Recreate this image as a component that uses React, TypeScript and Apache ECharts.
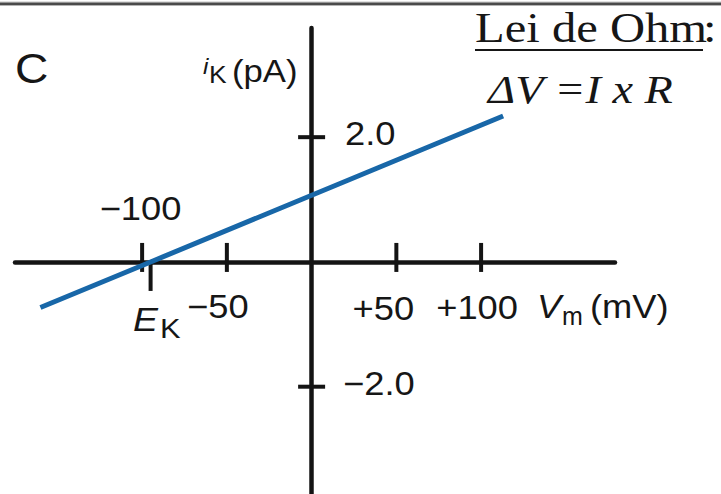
import React, { useEffect, useRef } from 'react';
import * as echarts from 'echarts';

// I–V relation of a single K+ channel
const vm = [-160, -95, 113];
const ik = [-0.73, 0, 2.34];
const eK = -95;

const xTickValues = [-100, -50, 50, 100];
const xTickLabels = ['\u2212100', '\u221250', '+50', '+100'];
const yTickValues = [2, -2];
const yTickLabels = ['2.0', '\u22122.0'];

// label placement relative to each tick (pixels)
const xLabelShift = [[-1.6, -53], [-9, 45], [-13, 47], [-4, 46]];
const yLabelShift = [[33.4, -4], [31.4, -3]];

const SANS = '"Liberation Sans", Arial, Helvetica, sans-serif';
const SERIF = '"Liberation Serif", "Times New Roman", serif';
const INK = '#161616';
const AXIS = '#141414';
const STRETCH = 1.1;

function txt(text: string, x: number, y: number, size: number, opts: any = {}) {
  const align = opts.align || 'left';
  return {
    type: 'text',
    x,
    y,
    scaleX: opts.scaleX ?? STRETCH,
    z: 20,
    style: {
      text,
      fontSize: size,
      fontFamily: opts.family || SANS,
      fontStyle: opts.italic ? 'italic' : 'normal',
      fill: INK,
      align,
      textAlign: align,
      verticalAlign: 'middle',
      textVerticalAlign: 'middle',
    },
  };
}

export default function App() {
  const ref = useRef<HTMLDivElement>(null);

  useEffect(() => {
    const chart = echarts.init(ref.current!, null, { renderer: 'svg' });

    const axisCommon = {
      type: 'value',
      axisLine: { onZero: true, lineStyle: { color: AXIS, width: 4.5 } },
      axisTick: { show: false },
      axisLabel: { show: false },
      splitLine: { show: false },
    };

    const tickStyle = { stroke: AXIS, lineWidth: 4 };

    chart.setOption({
      animation: false,
      backgroundColor: '#ffffff',
      grid: { left: 15, right: 106, top: 28, bottom: 0 },
      xAxis: { ...axisCommon, min: -175, max: 179 },
      yAxis: { ...axisCommon, min: -3.72, max: 3.75 },
      series: [
        {
          type: 'line',
          data: vm.map((v, i) => [v, ik[i]]),
          symbol: 'none',
          showSymbol: false,
          lineStyle: { color: '#1867a8', width: 5 },
          z: 5,
        },
        {
          // crossing ticks on the voltage axis
          type: 'custom',
          data: xTickValues.map((v) => [v, 0]),
          renderItem: (_p: any, api: any) => {
            const c = api.coord([api.value(0), 0]);
            return {
              type: 'line',
              shape: { x1: c[0], y1: c[1] - 19, x2: c[0], y2: c[1] + 10 },
              style: tickStyle,
            };
          },
          z: 3,
        },
        {
          // reversal potential tick, below the axis
          type: 'custom',
          data: [[eK, 0]],
          renderItem: (_p: any, api: any) => {
            const c = api.coord([api.value(0), 0]);
            return {
              type: 'line',
              shape: { x1: c[0], y1: c[1], x2: c[0], y2: c[1] + 29 },
              style: tickStyle,
            };
          },
          z: 3,
        },
        {
          // ticks on the current axis
          type: 'custom',
          data: yTickValues.map((v) => [0, v]),
          renderItem: (_p: any, api: any) => {
            const c = api.coord([0, api.value(1)]);
            return {
              type: 'line',
              shape: { x1: c[0] - 13.5, y1: c[1], x2: c[0] + 13.5, y2: c[1] },
              style: tickStyle,
            };
          },
          z: 3,
        },
      ],
    });

    const px = (x: number, y: number) => chart.convertToPixel({ gridIndex: 0 }, [x, y]) as number[];
    const origin = px(0, 0);
    const ekPt = px(eK, 0);

    const graphic: any[] = [
      // frame line across the top
      { type: 'rect', shape: { x: 0, y: 1.5, width: 721, height: 1 }, style: { fill: '#c4c4c4' } },
      { type: 'rect', shape: { x: 0, y: 2.5, width: 721, height: 2.5 }, style: { fill: '#4a4a4a' } },
      { type: 'rect', shape: { x: 0, y: 5, width: 721, height: 1 }, style: { fill: '#b4b4b4' } },

      txt('C', 15, 68, 42),

      // current axis name
      txt('i', 203, 66, 22, { italic: true }),
      txt('K', 209, 74, 24),
      txt('(pA)', 232, 71, 31, { scaleX: 1.12 }),

      // voltage axis name
      txt('V', 537, 307, 33, { italic: true }),
      txt('m', 562, 316, 25, { scaleX: 1.0 }),
      txt('(mV)', 590, 307, 33),

      // Ohm's law note
      txt('Lei de Ohm', 475, 27.5, 43, { family: SERIF, scaleX: 1.13 }),
      txt(':', 703, 27.5, 43, { family: SERIF, scaleX: 1.13 }),
      { type: 'rect', shape: { x: 475, y: 49, width: 228, height: 2 }, style: { fill: INK }, z: 20 },
      txt('\u0394V =I x R', 488, 88.5, 41, { family: SERIF, italic: true, scaleX: 1.13 }),

      // reversal potential label
      txt('E', ekPt[0] - 17.6, 320, 34, { italic: true }),
      txt('K', ekPt[0] + 9.4, 328, 28),
    ];

    xTickValues.forEach((v, i) => {
      const p = px(v, 0);
      graphic.push(txt(xTickLabels[i], p[0] + xLabelShift[i][0], p[1] + xLabelShift[i][1], 33, { align: 'center' }));
    });
    yTickValues.forEach((v, i) => {
      const p = px(0, v);
      graphic.push(txt(yTickLabels[i], origin[0] + yLabelShift[i][0], p[1] + yLabelShift[i][1], 33));
    });

    chart.setOption({ graphic });

    return () => chart.dispose();
  }, []);

  return (
    <div
      ref={ref}
      style={{ position: 'absolute', left: 0, top: 0, width: 721, height: 494, background: '#fff' }}
    />
  );
}
